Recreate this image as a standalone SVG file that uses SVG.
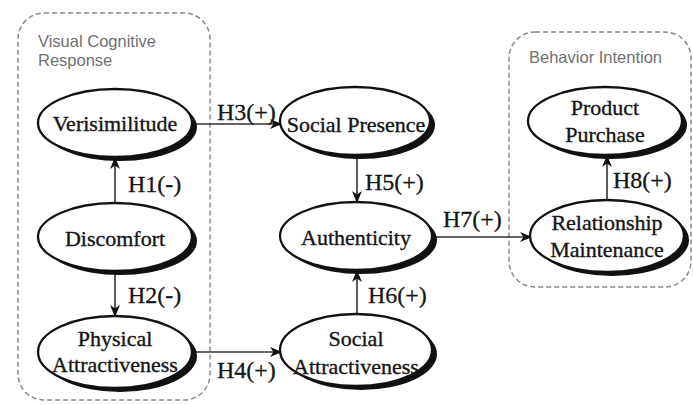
<svg xmlns="http://www.w3.org/2000/svg" width="693" height="405" viewBox="0 0 693 405">
<defs>
<style>
.box{fill:none;stroke:#8a8a8a;stroke-width:1.5;stroke-dasharray:5 3}
.boxlbl{font-family:"Liberation Sans",Arial,sans-serif;font-size:16.5px;fill:#707070}
.shadow{fill:#111}
.node{fill:#fff;stroke:#111;stroke-width:2.3}
.ntxt{font-family:"Liberation Serif","Times New Roman",serif;font-size:22px;fill:#151515;stroke:#151515;stroke-width:0.35;text-anchor:middle}
.elbl{font-family:"Liberation Serif","Times New Roman",serif;font-size:24px;fill:#151515;stroke:#151515;stroke-width:0.3}
.edge{fill:none;stroke:#333;stroke-width:1.6;marker-end:url(#arr)}
</style>
<marker id="arr" markerUnits="userSpaceOnUse" markerWidth="12" markerHeight="10" refX="11" refY="5" orient="auto">
<path d="M0,0 L12,5 L0,10 L3.5,5 z" fill="#111"/>
</marker>
</defs>
<rect fill="#fff" x="0" y="0" width="693" height="405"/>

<g id="group-visual">
<rect class="box" x="18" y="13" width="192" height="387" rx="26"/>
<text class="boxlbl" x="38" y="47">Visual Cognitive</text>
<text class="boxlbl" x="38" y="66">Response</text>
</g>
<g id="group-behavior">
<rect class="box" x="509" y="32" width="182" height="255" rx="26"/>
<text class="boxlbl" x="529" y="63">Behavior Intention</text>
</g>

<g id="connectors">
<line class="edge" x1="115" y1="203" x2="115" y2="158"/>
<line class="edge" x1="115" y1="272" x2="115" y2="316"/>
<line class="edge" x1="193" y1="124" x2="281" y2="124"/>
<line class="edge" x1="193" y1="352" x2="281" y2="352"/>
<line class="edge" x1="357" y1="158" x2="357" y2="202"/>
<line class="edge" x1="357" y1="314" x2="357" y2="271"/>
<line class="edge" x1="433" y1="237" x2="531" y2="237"/>
<line class="edge" x1="607" y1="201" x2="607" y2="156"/>
<text class="elbl" x="128" y="192">H1(-)</text>
<text class="elbl" x="128" y="303">H2(-)</text>
<text class="elbl" x="217" y="120">H3(+)</text>
<text class="elbl" x="217" y="378">H4(+)</text>
<text class="elbl" x="365" y="190">H5(+)</text>
<text class="elbl" x="368" y="303">H6(+)</text>
<text class="elbl" x="443" y="227">H7(+)</text>
<text class="elbl" x="613" y="188">H8(+)</text>
</g>

<g id="verisimilitude">
<ellipse class="shadow" cx="120" cy="127" rx="77" ry="34"/>
<ellipse class="node" cx="115" cy="123" rx="77" ry="34"/>
<text class="ntxt" x="115" y="131">Verisimilitude</text>
</g>
<g id="discomfort">
<ellipse class="shadow" cx="120" cy="241" rx="77" ry="34"/>
<ellipse class="node" cx="115" cy="237" rx="77" ry="34"/>
<text class="ntxt" x="115" y="246">Discomfort</text>
</g>
<g id="physical-attractiveness">
<ellipse class="shadow" cx="120" cy="356" rx="77" ry="36"/>
<ellipse class="node" cx="115" cy="352" rx="77" ry="36"/>
<text class="ntxt" x="115" y="346">Physical</text>
<text class="ntxt" x="115" y="372">Attractiveness</text>
</g>
<g id="social-presence">
<ellipse class="shadow" cx="360" cy="125" rx="75" ry="34"/>
<ellipse class="node" cx="355" cy="121" rx="75" ry="34"/>
<text class="ntxt" x="356" y="132">Social Presence</text>
</g>
<g id="authenticity">
<ellipse class="shadow" cx="361" cy="240" rx="76" ry="34"/>
<ellipse class="node" cx="356" cy="236" rx="76" ry="34"/>
<text class="ntxt" x="356" y="245">Authenticity</text>
</g>
<g id="social-attractiveness">
<ellipse class="shadow" cx="361" cy="354" rx="76" ry="36"/>
<ellipse class="node" cx="356" cy="350" rx="76" ry="36"/>
<text class="ntxt" x="356" y="346">Social</text>
<text class="ntxt" x="356" y="374">Attractiveness</text>
</g>
<g id="product-purchase">
<ellipse class="shadow" cx="610" cy="125" rx="77" ry="34"/>
<ellipse class="node" cx="605" cy="121" rx="77" ry="34"/>
<text class="ntxt" x="605" y="115">Product</text>
<text class="ntxt" x="605" y="142">Purchase</text>
</g>
<g id="relationship-maintenance">
<ellipse class="shadow" cx="612" cy="240" rx="77" ry="36"/>
<ellipse class="node" cx="607" cy="236" rx="77" ry="36"/>
<text class="ntxt" x="607" y="230">Relationship</text>
<text class="ntxt" x="607" y="257">Maintenance</text>
</g>
</svg>
